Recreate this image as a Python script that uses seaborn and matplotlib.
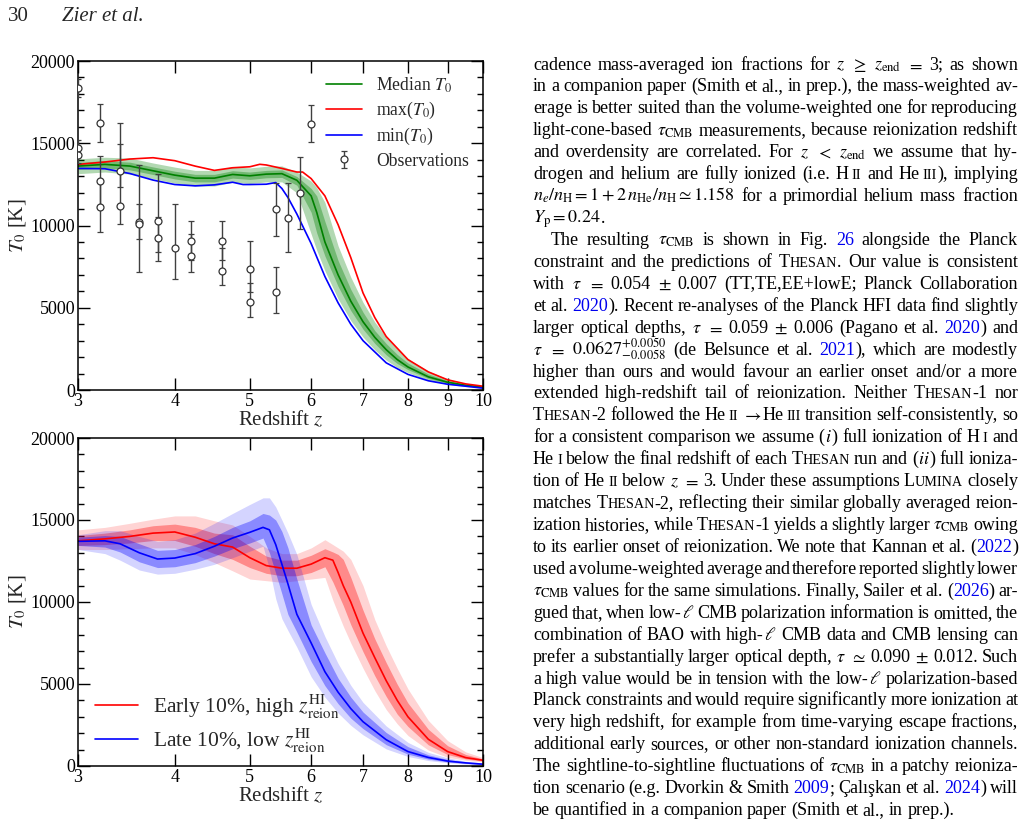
import re
import matplotlib
matplotlib.use("Agg")
import matplotlib.pyplot as plt
import seaborn as sns
from matplotlib.lines import Line2D
from matplotlib.ticker import FixedLocator, MultipleLocator, NullLocator

# --- top panel: median / max / min T0 and observations ---
z_med = [3.0, 3.25, 3.5, 3.75, 4.0, 4.25, 4.5, 4.75, 5.0, 5.25, 5.5, 5.75, 6.0, 6.1, 6.25,
         6.5, 6.75, 7.0, 7.25, 7.5, 7.75, 8.0, 8.5, 9.0, 9.5, 10.0]
T_med = [13613, 13715, 13613, 13327, 13062, 12879, 12879, 13103, 13021, 13123, 13150, 12750, 11800,
         10800, 9000, 7000, 5400, 4150, 3200, 2450, 1850, 1400, 800, 470, 290, 170]
T_med_dark_lo = [13400, 13500, 13380, 13100, 12830, 12650, 12650, 12880, 12800, 12900, 12920, 12450,
                 10800, 9550, 8150, 6300, 4830, 3700, 2830, 2140, 1610, 1240, 700, 410, 250, 150]
T_med_dark_hi = [13830, 13950, 13850, 13560, 13300, 13110, 13110, 13330, 13250, 13350, 13380, 12980,
                 12250, 11800, 10250, 7870, 6120, 4730, 3610, 2820, 2160, 1640, 970, 570, 330, 195]
T_med_light_lo = [13150, 13250, 13130, 12850, 12580, 12400, 12400, 12630, 12550, 12650, 12650, 11990,
                  9480, 8500, 7250, 5540, 4220, 3220, 2440, 1820, 1370, 1060, 600, 350, 210, 140]
T_med_light_hi = [14050, 14150, 14100, 13800, 13550, 13350, 13350, 13580, 13500, 13600, 13620, 13250,
                  12700, 12300, 11410, 8760, 6860, 5330, 4130, 3210, 2480, 1900, 1150, 670, 400, 250]

z_max = [3.0, 3.25, 3.5, 3.75, 4.0, 4.25, 4.5, 4.75, 5.0, 5.15, 5.25, 5.5, 5.75, 5.85, 6.0, 6.25,
         6.5, 6.75, 7.0, 7.25, 7.5, 8.0, 8.5, 9.0, 9.5, 10.0]
T_max = [13715, 13860, 14040, 14120, 13940, 13610, 13350, 13510, 13570, 13720, 13680, 13470, 13250,
         13250, 12850, 11800, 10050, 8050, 5900, 4400, 3250, 1850, 1100, 620, 370, 230]

z_min = [3.0, 3.25, 3.5, 3.75, 4.0, 4.25, 4.5, 4.75, 4.9, 5.0, 5.25, 5.4, 5.5, 5.6, 5.75, 6.0,
         6.25, 6.5, 6.75, 7.0, 7.5, 8.0, 8.5, 9.0, 9.5, 10.0]
T_min = [13470, 13450, 13160, 12760, 12490, 12410, 12470, 12630, 12490, 12490, 12510, 12610, 12250,
         11700, 10700, 8900, 6900, 5300, 4000, 3000, 1650, 950, 560, 350, 230, 110]

obs_z = [3.0, 3.0, 3.0, 3.2, 3.2, 3.2, 3.4, 3.4, 3.6, 3.6, 3.8, 3.8, 4.0, 4.2, 4.2, 4.6, 4.6,
         5.0, 5.0, 5.4, 5.4, 5.6, 5.8, 6.0]
obs_T = [18340, 14690, 14290, 16215, 12726, 11145, 13313, 11204, 10231, 10073, 10255, 9222, 8614,
         9039, 8128, 9042, 7245, 7356, 5350, 10985, 5977, 10474, 11976, 16170]
obs_lo = [17800, 14200, 13800, 15078, 11200, 9625, 12340, 10091, 7155, 9161, 8400, 7824, 6748,
          7900, 7173, 7899, 6368, 5939, 4458, 9380, 4662, 8389, 9769, 15095]
obs_hi = [18900, 15200, 14800, 17371, 14227, 12700, 14955, 16213, 13660, 11289, 13113, 10500, 11325,
          10255, 9483, 10246, 8634, 9039, 6486, 12566, 7477, 12566, 14183, 17325]

# --- bottom panel: early / late reionizing 10% ---
z_early = [3.0, 3.25, 3.5, 3.75, 4.0, 4.25, 4.5, 4.75, 5.0, 5.25, 5.5, 5.75, 6.0, 6.25, 6.4, 6.5,
           6.6, 6.75, 7.0, 7.25, 7.5, 7.75, 8.0, 8.5, 9.0, 9.5, 10.0]
T_early = [13730, 13850, 14000, 14200, 14270, 13950, 13550, 13350, 12700, 12220, 12060, 12060, 12310,
           12700, 12550, 11800, 11000, 10000, 8100, 6600, 5200, 4000, 3000, 1630, 880, 510, 350]
T_early_dark_lo = [13450, 13500, 13600, 13750, 13750, 13400, 12950, 12600, 12100, 11750, 11600, 11600,
                   11800, 12150, 11220, 10500, 9790, 8620, 6970, 5500, 4240, 3160, 2410, 1290, 700, 430, 300]
T_early_dark_hi = [14050, 14200, 14400, 14650, 14750, 14550, 14200, 14100, 13400, 12800, 12550, 12550,
                   12850, 13250, 13050, 12900, 12600, 11500, 9500, 7750, 6300, 4980, 3840, 2240, 1240, 700, 430]
T_early_light_lo = [13200, 13200, 13250, 13300, 13300, 12900, 12400, 11900, 11400, 11300, 11200, 11300,
                    11400, 11500, 10100, 9300, 8530, 7500, 5960, 4590, 3440, 2570, 1860, 970, 530, 350, 250]
T_early_light_hi = [14400, 14550, 14800, 15050, 15250, 15250, 14950, 14700, 14000, 13300, 12950, 12950,
                    13300, 13800, 13500, 13300, 13100, 12600, 11000, 8920, 7330, 5950, 4700, 2780, 1550, 860, 510]

z_late = [3.0, 3.25, 3.4, 3.6, 3.8, 4.0, 4.25, 4.5, 4.75, 5.0, 5.2, 5.3, 5.4, 5.5, 5.6, 5.75, 6.0,
          6.25, 6.5, 6.75, 7.0, 7.5, 8.0, 8.5, 9.0, 9.5, 10.0]
T_late = [13700, 13730, 13550, 13000, 12620, 12680, 12950, 13400, 13900, 14250, 14550, 14400, 13500,
          12300, 11100, 9250, 7500, 5750, 4500, 3500, 2700, 1600, 880, 520, 300, 190, 110]
T_late_dark_lo = [13450, 13350, 13050, 12450, 12100, 12150, 12400, 12800, 13250, 13600, 13900, 13000,
                  11750, 10500, 9240, 8170, 6370, 4900, 3800, 2920, 2280, 1300, 720, 420, 250, 160, 95]
T_late_dark_hi = [13950, 14050, 14000, 13550, 13150, 13200, 13500, 14000, 14550, 14950, 15400, 15300,
                  15000, 14300, 13300, 11400, 8600, 6900, 5350, 4200, 3290, 2040, 1180, 680, 400, 245, 150]
T_late_light_lo = [13200, 12950, 12550, 11950, 11700, 11750, 12000, 12300, 12700, 13100, 13400, 12000,
                   10200, 8980, 8260, 7250, 5440, 4200, 3230, 2480, 1900, 1040, 580, 330, 200, 120, 80]
T_late_light_hi = [14100, 14350, 14350, 14000, 13700, 13800, 14200, 14800, 15400, 15950, 16350, 16350,
                   15800, 15000, 14200, 12900, 9850, 7900, 6250, 4920, 3880, 2440, 1440, 830, 500, 290, 190]

z_ticks = [3, 4, 5, 6, 7, 8, 9, 10]
top_labels = ["Median $T_0$", "max($T_0$)", "min($T_0$)", "Observations"]
bottom_labels = [r"Early 10%, high $z^{\mathrm{HI}}_{\mathrm{reion}}$",
                 r"Late 10%, low $z^{\mathrm{HI}}_{\mathrm{reion}}$"]

# page text (markup: $..$ math, <..> small caps, [..] link, ~ thin space)
body_lines = [
    r"cadence mass-averaged ion fractions for $z$ $\geq$ $z_{\mathrm{end}}$ $=$ 3; as shown",
    r"in a companion paper (Smith et al., in prep.), the mass-weighted av-",
    r"erage is better suited than the volume-weighted one for reproducing",
    r"light-cone-based $\tau_{\mathrm{CMB}}$ measurements, because reionization redshift",
    r"and overdensity are correlated. For $z$ $<$ $z_{\mathrm{end}}$ we assume that hy-",
    r"drogen and helium are fully ionized (i.e. H~<ii> and He~<iii>), implying",
    r"$n_e/n_{\mathrm{H}}=1+2\,n_{\mathrm{He}}/n_{\mathrm{H}}\simeq1.158$ for a primordial helium mass fraction",
    r"$Y_{\mathrm{p}}=0.24$.",
    r"The resulting $\tau_{\mathrm{CMB}}$ is shown in Fig. [26] alongside the Planck",
    r"constraint and the predictions of <Thesan>. Our value is consistent",
    r"with $\tau$ $=$ 0.054 $\pm$ 0.007 (TT,TE,EE+lowE; Planck Collaboration",
    r"et al. [2020]). Recent re-analyses of the Planck HFI data find slightly",
    r"larger optical depths, $\tau$ $=$ 0.059 $\pm$ 0.006 (Pagano et al. [2020]) and",
    r"$\tau$ $=$ $0.0627^{+0.0050}_{-0.0058}$ (de Belsunce et al. [2021]), which are modestly",
    r"higher than ours and would favour an earlier onset and/or a more",
    r"extended high-redshift tail of reionization. Neither <Thesan>-1 nor",
    r"<Thesan>-2 followed the He~<ii> $\rightarrow$He~<iii> transition self-consistently, so",
    r"for a consistent comparison we assume ($i$) full ionization of H~<i> and",
    r"He~<i> below the final redshift of each <Thesan> run and ($ii$) full ioniza-",
    r"tion of He~<ii> below $z$ $=$ 3. Under these assumptions <Lumina> closely",
    r"matches <Thesan>-2, reflecting their similar globally averaged reion-",
    r"ization histories, while <Thesan>-1 yields a slightly larger $\tau_{\mathrm{CMB}}$ owing",
    r"to its earlier onset of reionization. We note that Kannan et al. ([2022])",
    r"used a volume-weighted average and therefore reported slightly lower",
    r"$\tau_{\mathrm{CMB}}$ values for the same simulations. Finally, Sailer et al. ([2026]) ar-",
    r"gued that, when low-$\ell$ CMB polarization information is omitted, the",
    r"combination of BAO with high-$\ell$ CMB data and CMB lensing can",
    r"prefer a substantially larger optical depth, $\tau$ $\simeq$ 0.090 $\pm$ 0.012. Such",
    r"a high value would be in tension with the low-$\ell$ polarization-based",
    r"Planck constraints and would require significantly more ionization at",
    r"very high redshift, for example from time-varying escape fractions,",
    r"additional early sources, or other non-standard ionization channels.",
    r"The sightline-to-sightline fluctuations of $\tau_{\mathrm{CMB}}$ in a patchy reioniza-",
    r"tion scenario (e.g. Dvorkin & Smith [2009]; Çalışkan et al. [2024]) will",
    r"be quantified in a companion paper (Smith et al., in prep.).",
]
para_starts = {8}
para_ends = {7, 34}

W, H = 1025, 826
GREEN, RED, BLUE = "#008000", "#ff0000", "#0000ff"

sns.set_style("ticks")
plt.rcParams["font.family"] = "serif"
plt.rcParams["font.serif"] = ["Liberation Serif", "DejaVu Serif"]
plt.rcParams["mathtext.fontset"] = "stix"

fig = plt.figure(figsize=(W / 100, H / 100), dpi=100)
ax1 = fig.add_axes([78 / W, 1 - 390 / H, 405 / W, 329 / H])
ax2 = fig.add_axes([78 / W, 1 - 766 / H, 405 / W, 328 / H])


def style_axes(ax):
    ax.set_xscale("log")
    ax.set_xlim(3, 10)
    ax.set_ylim(0, 20000)
    ax.xaxis.set_major_locator(FixedLocator(z_ticks))
    ax.xaxis.set_minor_locator(NullLocator())
    ax.set_xticklabels([str(t) for t in z_ticks])
    ax.yaxis.set_major_locator(MultipleLocator(5000))
    ax.yaxis.set_minor_locator(MultipleLocator(1000))
    ax.tick_params(which="both", direction="in", top=True, right=True, width=1.0,
                   labelsize=13, colors="black")
    ax.tick_params(axis="x", pad=2)
    ax.tick_params(axis="y", pad=2)
    ax.tick_params(which="major", length=8.5)
    ax.tick_params(which="minor", length=4.3)
    for s in ax.spines.values():
        s.set_linewidth(1.1)
        s.set_color("black")
    ax.set_xlabel("Redshift $z$", fontsize=15, labelpad=0)
    ax.set_ylabel("$T_0$ [K]", fontsize=15, labelpad=2)


# top panel
ax1.fill_between(z_med, T_med_light_lo, T_med_light_hi, color=GREEN, alpha=0.3, lw=0)
ax1.fill_between(z_med, T_med_dark_lo, T_med_dark_hi, color=GREEN, alpha=0.35, lw=0)
sns.lineplot(x=z_med, y=T_med, color=GREEN, lw=1.2, ax=ax1)
sns.lineplot(x=z_max, y=T_max, color=RED, lw=1.2, ax=ax1)
sns.lineplot(x=z_min, y=T_min, color=BLUE, lw=1.2, ax=ax1)
err = [[t - l for t, l in zip(obs_T, obs_lo)], [h - t for t, h in zip(obs_T, obs_hi)]]
eb = ax1.errorbar(obs_z, obs_T, yerr=err, fmt="o", ms=5, mfc="white", mec="0.2", mew=0.9,
                  ecolor="0.25", elinewidth=1.0, capsize=2.5, capthick=1.0, zorder=5)
style_axes(ax1)
h_top = [Line2D([], [], color=GREEN, lw=1.2), Line2D([], [], color=RED, lw=1.2),
         Line2D([], [], color=BLUE, lw=1.2), eb]
ax1.legend(h_top, top_labels, loc="upper left", bbox_to_anchor=(0.612, 0.957), borderpad=0,
           borderaxespad=0, frameon=False, fontsize=12.7, handlelength=2.05,
           handletextpad=0.8, labelspacing=0.3)

# bottom panel
ax2.fill_between(z_early, T_early_light_lo, T_early_light_hi, color=RED, alpha=0.17, lw=0)
ax2.fill_between(z_early, T_early_dark_lo, T_early_dark_hi, color=RED, alpha=0.35, lw=0)
ax2.fill_between(z_late, T_late_light_lo, T_late_light_hi, color=BLUE, alpha=0.17, lw=0)
ax2.fill_between(z_late, T_late_dark_lo, T_late_dark_hi, color=BLUE, alpha=0.35, lw=0)
sns.lineplot(x=z_early, y=T_early, color=RED, lw=1.2, ax=ax2)
sns.lineplot(x=z_late, y=T_late, color=BLUE, lw=1.2, ax=ax2)
style_axes(ax2)
h_bot = [Line2D([], [], color=RED, lw=1.2), Line2D([], [], color=BLUE, lw=1.2)]
ax2.legend(h_bot, bottom_labels, loc="lower left", bbox_to_anchor=(0.042, 0.035), borderpad=0,
           borderaxespad=0, frameon=False, fontsize=15.5, handlelength=2.0,
           handletextpad=0.7, labelspacing=0.25)

# page header
fig.text(8 / W, 1 - 21 / H, "30", fontsize=15, va="baseline")
fig.text(62 / W, 1 - 21 / H, "Zier et al.", fontsize=15, style="italic", va="baseline")

# right-hand column text, justified word by word
FS = 13
renderer = fig.canvas.get_renderer()
TOKEN = re.compile(r"(\$[^$]*\$)|<([^>]*)>|\[([^\]]*)\]|(~)|([^$<\[~]+)")


def make_pieces(word):
    pieces = []
    for m in TOKEN.finditer(word):
        math, sc, link, thin, plain = m.groups()
        if thin:
            pieces.append((None, 3.0))
            continue
        if math:
            items = [(math, FS, "black")]
        elif link is not None:
            items = [(link, FS, "#0000ee")]
        elif sc is not None:
            items = []
            for ch in sc:
                size = FS if ch.isupper() else FS * 0.78
                if items and items[-1][1] == size:
                    items[-1] = (items[-1][0] + ch.upper(), size, "black")
                else:
                    items.append((ch.upper(), size, "black"))
        else:
            items = [(plain, FS, "black")]
        for s, size, col in items:
            t = fig.text(0, 0, s, fontsize=size, color=col, va="baseline", ha="left")
            pieces.append((t, t.get_window_extent(renderer=renderer).width))
    return pieces


for i, line in enumerate(body_lines):
    yb = 69.5 + i * 21.93
    x0 = 533 + (18 if i in para_starts else 0)
    words = [make_pieces(w) for w in line.split(" ")]
    widths = [sum(w for _, w in p) for p in words]
    if i in para_ends or len(words) < 2:
        gap = 4.5
    else:
        gap = (1018 - x0 - sum(widths)) / (len(words) - 1)
    x = x0
    for p, wsum in zip(words, widths):
        xx = x
        for t, w in p:
            if t is not None:
                t.set_position((xx / W, 1 - yb / H))
            xx += w
        x += wsum + gap

fig.savefig("out.png", dpi=100)
